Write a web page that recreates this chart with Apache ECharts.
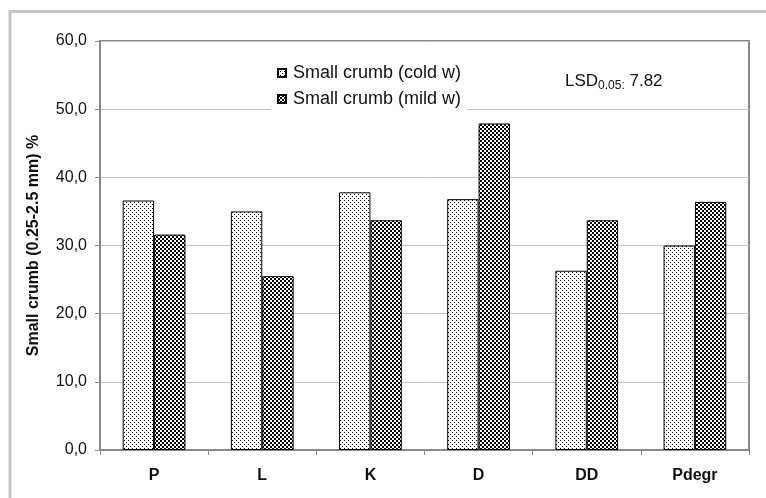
<!DOCTYPE html>
<html>
<head>
<meta charset="utf-8">
<script src="https://cdn.jsdelivr.net/npm/echarts@6/dist/echarts.min.js"></script>
<style>html,body{margin:0;padding:0;background:#fff}#c{width:766px;height:498px}</style>
</head>
<body>
<div id="c"></div>
<script>
var categories = ['P', 'L', 'K', 'D', 'DD', 'Pdegr'];
var coldW = [36.6, 35.0, 37.8, 36.8, 26.3, 30.0];
var mildW = [31.6, 25.5, 33.7, 47.9, 33.7, 36.4];
var seriesNames = ['Small crumb (cold w)', 'Small crumb (mild w)'];
var yTicks = { min: 0, max: 60, interval: 10 };

function makePattern(kind) {
  var c = document.createElement('canvas');
  var ctx = c.getContext('2d');
  c.width = 4; c.height = 4;
  ctx.fillStyle = '#fff'; ctx.fillRect(0, 0, 4, 4);
  ctx.fillStyle = '#000';
  if (kind === 'cold') {
    ctx.fillRect(0, 0, 1, 1);
    ctx.fillRect(2, 2, 1, 1);
  } else {
    ctx.fillRect(0, 0, 2, 2);
    ctx.fillRect(2, 2, 2, 2);
  }
  return { image: c, repeat: 'repeat' };
}

var chart = echarts.init(document.getElementById('c'), null, { renderer: 'canvas' });
var font = 'Liberation Sans, Arial, sans-serif';
chart.setOption({
  animation: false,
  backgroundColor: '#fff',
  textStyle: { fontFamily: font },
  grid: { left: 100, right: 17, top: 41, bottom: 48, show: true, borderColor: '#888', borderWidth: 2, backgroundColor: 'transparent' },
  legend: {
    orient: 'vertical', left: 271, top: 59,
    itemWidth: 8, itemHeight: 8, itemGap: 8,
    padding: [5, 6, 5, 6],
    backgroundColor: '#fff',
    icon: 'rect',
    textStyle: { fontSize: 18, color: '#111', fontFamily: font, padding: [0, 0, 0, 2] },
    data: seriesNames
  },
  xAxis: {
    type: 'category', data: categories,
    axisLine: { lineStyle: { color: '#888', width: 2 } },
    axisTick: { show: true, length: 5, lineStyle: { color: '#888' } },
    axisLabel: { fontSize: 16, fontWeight: 'bold', color: '#111', margin: 18, fontFamily: font }
  },
  yAxis: {
    type: 'value', min: yTicks.min, max: yTicks.max, interval: yTicks.interval,
    name: 'Small crumb (0.25-2.5 mm) %', nameLocation: 'middle', nameGap: 58,
    nameTextStyle: { fontSize: 16, fontWeight: 'bold', color: '#111', fontFamily: font },
    axisLine: { show: true, lineStyle: { color: '#888', width: 2 } },
    axisTick: { show: true, length: 5, lineStyle: { color: '#888' } },
    splitLine: { lineStyle: { color: '#c4c4c4', width: 1 } },
    axisLabel: { fontSize: 16, color: '#111', margin: 13, fontFamily: font,
      formatter: function (v) { return v.toFixed(1).replace('.', ','); } }
  },
  series: [
    { name: seriesNames[0], type: 'bar', data: coldW, barGap: '0%', barCategoryGap: '42%',
      itemStyle: { color: makePattern('cold'), borderColor: '#000', borderWidth: 1 } },
    { name: seriesNames[1], type: 'bar', data: mildW, barGap: '0%', barCategoryGap: '42%',
      itemStyle: { color: makePattern('mild'), borderColor: '#000', borderWidth: 1 } }
  ],
  graphic: [
    { type: 'rect', shape: { x: 10, y: 11.5, width: 900, height: 700 }, style: { fill: 'none', stroke: '#c4c4c4', lineWidth: 3 }, silent: true },
    { type: 'text', left: 565, top: 73,
      style: { text: '{a|LSD}{b|0.05:}{a| 7.82}', font: '17px ' + font,
        rich: { a: { fontSize: 17, fontFamily: font, fill: '#111' }, b: { fontSize: 12, fontFamily: font, fill: '#111', padding: [8, 0, 0, 0] } } } }
  ]
});
</script>
</body>
</html>
